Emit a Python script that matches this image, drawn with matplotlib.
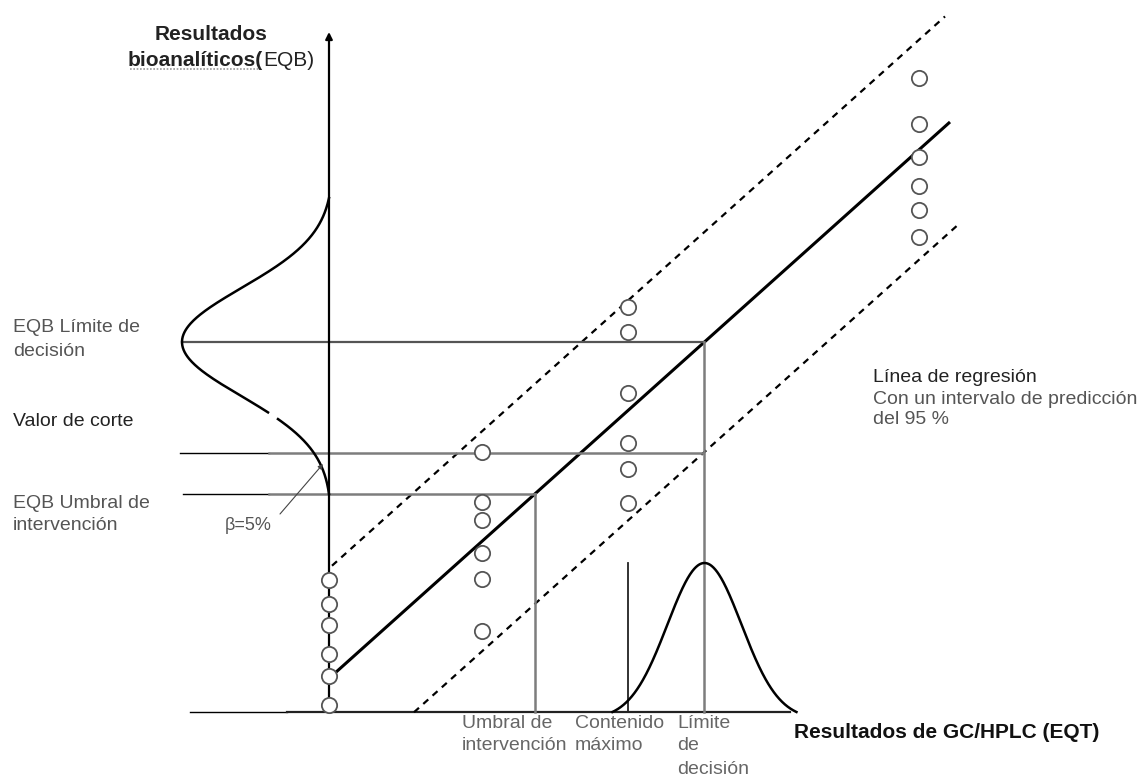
import numpy as np
import matplotlib.pyplot as plt

plt.rcParams['font.family'] = ['Liberation Sans', 'DejaVu Sans']

# regression line and 95 % prediction band (y = a + b*x)
reg_a = 33.6
reg_b = 0.896
band = 110
reg_x = [6, 621]
upper_x = [3, 616]
lower_x = [85, 631]

# levels on the bioanalytical axis
eqb_umbral = 218
valor_corte = 259
eqb_limite = 370
contenido_max = 299

# measured points, one column per sample group
col_x = [0, 153, 299, 590]
col_y = [
    [132, 108, 87, 58, 36, 7],
    [260, 210, 192, 159, 133, 81],
    [405, 380, 319, 269, 243, 209],
    [634, 588, 555, 526, 502, 475],
]

# distributions drawn on both axes
bell_y = dict(center=eqb_limite, sigma=54, height=147, lo=218, hi=514)
bell_x = dict(sigma=37, height=149, half=92)

umbral_x = (eqb_umbral - reg_a) / reg_b
limite_x = (eqb_limite - reg_a) / reg_b
corte_x = (valor_corte - reg_a + band) / reg_b

fig = plt.figure(figsize=(11.46, 7.76), dpi=100)
ax = fig.add_axes([0, 0, 1, 1])
ax.set_xlim(-329, 817)
ax.set_ylim(-64, 712)
ax.axis('off')

gray = '#7d7d7d'


def bell(t, c, s, h, t0, t1):
    # normal curve scaled so it reaches zero at both ends
    g = np.exp(-(t - c) ** 2 / (2 * s ** 2))
    g0 = np.exp(-(t0 - c) ** 2 / (2 * s ** 2))
    g1 = np.exp(-(t1 - c) ** 2 / (2 * s ** 2))
    base = g0 + (g1 - g0) * (t - t0) / (t1 - t0)
    return h * (g - base) / (1 - base)


# axes
ax.annotate('', xy=(0, 680), xytext=(0, 0),
            arrowprops=dict(arrowstyle='-|>', lw=1.6, color='k', mutation_scale=10, shrinkA=0, shrinkB=0))
ax.plot([-139, -42], [0, 0], color='k', lw=1.0)
ax.plot([-42, 461], [0, 0], color='#222', lw=1.6)

# regression + band
xs = np.array(reg_x)
ax.plot(xs, reg_a + reg_b * xs, color='k', lw=2.2, solid_capstyle='butt')
xs = np.array(upper_x)
ax.plot(xs, reg_a + band + reg_b * xs, color='k', lw=1.6, ls=(0, (3, 2.6)))
xs = np.array(lower_x)
ax.plot(xs, reg_a - band + reg_b * xs, color='k', lw=1.6, ls=(0, (3, 2.6)))

# horizontal reference lines
ax.plot([-147, limite_x], [eqb_limite, eqb_limite], color='#555', lw=1.6)
ax.plot([-149, -60], [valor_corte, valor_corte], color='k', lw=1.0)
ax.plot([-60, corte_x], [valor_corte, valor_corte], color=gray, lw=1.8)
ax.plot([-146, -60], [eqb_umbral, eqb_umbral], color='k', lw=1.0)
ax.plot([-60, umbral_x], [eqb_umbral, eqb_umbral], color=gray, lw=1.8)

# vertical reference lines
ax.plot([umbral_x, umbral_x], [0, eqb_umbral], color=gray, lw=1.8)
ax.plot([limite_x, limite_x], [0, eqb_limite], color=gray, lw=1.8)
ax.plot([contenido_max, contenido_max], [0, bell_x['height']], color='#222', lw=1.3)

# bell on the y axis (small break near the cut-off label)
yy = np.linspace(bell_y['lo'], bell_y['hi'], 400)
xx = -bell(yy, bell_y['center'], bell_y['sigma'], bell_y['height'], bell_y['lo'], bell_y['hi'])
gap = (yy > 293) & (yy < 299)
ax.plot(np.where(gap, np.nan, xx), yy, color='k', lw=1.8)

# bell on the x axis
x0, x1 = limite_x - bell_x['half'], limite_x + bell_x['half']
xx = np.linspace(x0, x1, 400)
yy = bell(xx, limite_x, bell_x['sigma'], bell_x['height'], x0, x1)
ax.plot(xx, yy, color='k', lw=1.8)

# points
for cx, ys in zip(col_x, col_y):
    ax.plot([cx] * len(ys), ys, 'o', ms=11, mfc='white', mec='#555', mew=1.3, ls='none', zorder=5)

# beta annotation
ax.annotate('', xy=(-6, 248), xytext=(-49, 198),
            arrowprops=dict(arrowstyle='-|>', lw=0.8, color='#444', mutation_scale=7, shrinkA=0, shrinkB=0))
ax.text(-104, 187, 'β=5%', fontsize=13, color='#555', va='center')

fs = 14


def lines(x, y, txt, dy, **kw):
    for i, s in enumerate(txt):
        ax.text(x, y - i * dy, s, va='center', fontsize=fs, **kw)


# y axis title
ax.text(-118, 677, 'Resultados', fontsize=15, fontweight='bold', color='#222', ha='center', va='center')
ax.text(-66, 652, 'bioanalíticos(', fontsize=15, fontweight='bold', color='#222', ha='right', va='center')
ax.text(-66, 652, 'EQB)', fontsize=15, color='#222', ha='left', va='center')
ax.plot([-199, -68], [643, 643], color='#999', lw=1.2, ls=(0, (1, 1)))

# left labels
lines(-316, 385, ['EQB Límite de', 'decisión'], 25, color='#555')
lines(-316, 290, ['Valor de corte'], 25, color='#222')
lines(-316, 209, ['EQB Umbral de', 'intervención'], 22, color='#555')

# bottom labels
lines(133, -11, ['Umbral de', 'intervención'], 22, color='#666')
lines(246, -11, ['Contenido', 'máximo'], 22, color='#666')
lines(348, -11, ['Límite', 'de', 'decisión'], 23, color='#666')
ax.text(465, -21, 'Resultados de GC/HPLC (EQT)', fontsize=15, fontweight='bold', color='#111', va='center')

# regression label
lines(544, 334, ['Línea de regresión'], 22, color='#222')
lines(544, 312, ['Con un intervalo de predicción', 'del 95 %'], 20, color='#555')

fig.savefig('out.png', dpi=100)
